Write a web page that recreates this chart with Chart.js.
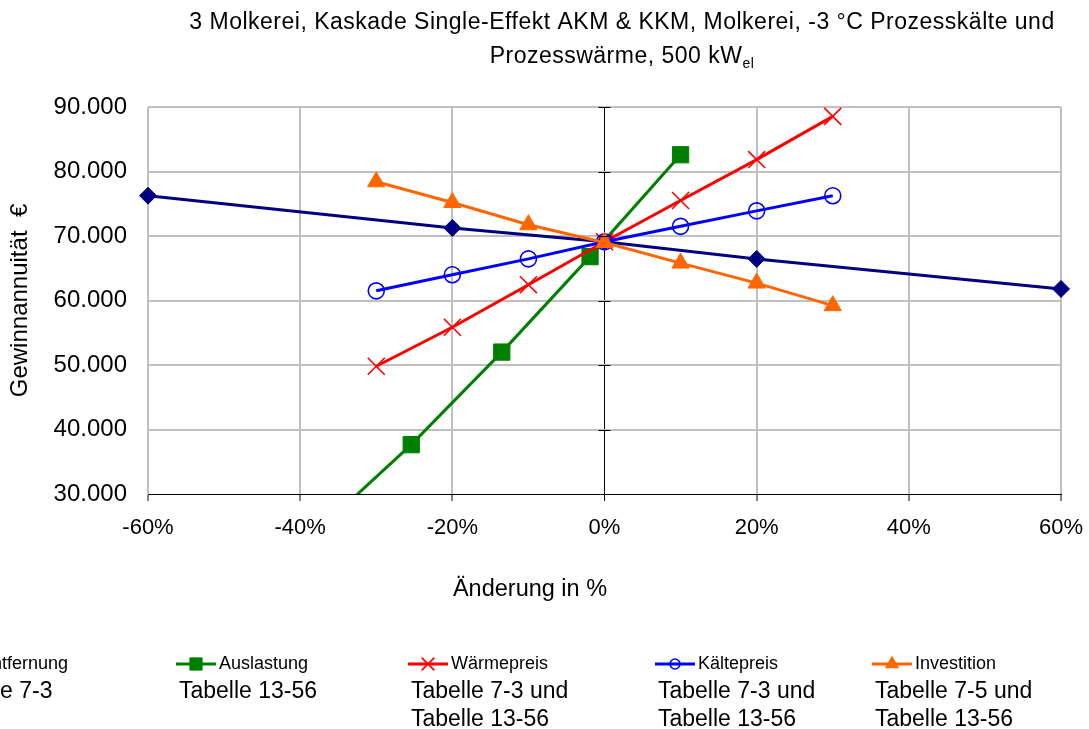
<!DOCTYPE html>
<html>
<head>
<meta charset="utf-8">
<script src="https://cdn.jsdelivr.net/npm/chart.js@4"></script>
<style>
    html, body { margin: 0; padding: 0; background: #fff; overflow: hidden; }
    #chart { display: block; }
</style>
</head>
<body>
<canvas id="chart" width="1089" height="729"></canvas>
<script>
// Data
const seriesNames = ['Entfernung', 'Auslastung', 'Wärmepreis', 'Kältepreis', 'Investition'];
const sourceNotes = [
    ['Tabelle 7-3'],
    ['Tabelle 13-56'],
    ['Tabelle 7-3 und', 'Tabelle 13-56'],
    ['Tabelle 7-3 und', 'Tabelle 13-56'],
    ['Tabelle 7-5 und', 'Tabelle 13-56']
];

const entfernungX = [-60, -20, 0, 20, 60];
const entfernungY = [76250, 71250, 69100, 66450, 61800];

const auslastungX = [-37.5, -25.4, -13.5, -1.9, 10];
const auslastungY = [24500, 37650, 52000, 66800, 82600];

const waermeX = [-30, -20, -10, 0, 10, 20, 30];
const waermeY = [49800, 55850, 62450, 69100, 75500, 81850, 88550];

const kaelteX = [-30, -20, -10, 0, 10, 20, 30];
const kaelteY = [61500, 64000, 66450, 69100, 71500, 73900, 76250];

const investX = [-30, -20, -10, 0, 10, 20, 30];
const investY = [78400, 75200, 71750, 69000, 65800, 62700, 59200];

const xTicks = [-60, -40, -20, 0, 20, 40, 60];
const yTicks = [30000, 40000, 50000, 60000, 70000, 80000, 90000];

const titleLine1 = '3 Molkerei, Kaskade Single-Effekt AKM & KKM, Molkerei, -3 °C Prozesskälte und';
const titleLine2 = 'Prozesswärme, 500 kW';
const titleSub = 'el';
const xTitle = 'Änderung in %';
const yTitle = 'Gewinnannuität  €';

// Styles
const FONT = "'Liberation Sans', Arial, sans-serif";
const GRID = '#c0c0c0';
const colors = ['#000080', '#008000', '#ff0000', '#0000ff', '#ff6600'];
const pointStyles = ['rectRot', 'rect', 'crossRot', 'circle', 'triangle'];
const pointRadii = [8.5, 11.5, 12, 8, 10];
const legendX = [-63, 176, 408, 655, 872];

function toPoints(xs, ys) {
    return xs.map((x, i) => ({ x: x, y: ys[i] }));
}

const seriesData = [
    toPoints(entfernungX, entfernungY),
    toPoints(auslastungX, auslastungY),
    toPoints(waermeX, waermeY),
    toPoints(kaelteX, kaelteY),
    toPoints(investX, investY)
];

const datasets = seriesNames.map((name, i) => ({
    label: name,
    data: seriesData[i],
    borderColor: colors[i],
    borderWidth: 3,
    pointStyle: pointStyles[i],
    pointRadius: pointRadii[i],
    pointBorderColor: colors[i],
    pointBackgroundColor: pointStyles[i] === 'circle' ? 'rgba(0,0,0,0)' : colors[i],
    pointBorderWidth: pointStyles[i] === 'circle' || pointStyles[i] === 'crossRot' ? 1.6 : 1,
    tension: 0,
    fill: false,
    order: seriesNames.length - i,
    clip: { left: 12, top: 12, right: 12, bottom: 0 }
}));

function formatThousands(v) {
    return String(v).replace(/\B(?=(\d{3})+(?!\d))/g, '.');
}

// Title, axis extras and legend drawn on the canvas
const decorPlugin = {
    id: 'decor',
    afterDraw(chart) {
        const ctx = chart.ctx;
        const xs = chart.scales.x;
        const ys = chart.scales.y;
        ctx.save();

        // zero axis tick marks
        const x0 = xs.getPixelForValue(0);
        ctx.strokeStyle = '#000';
        ctx.lineWidth = 1;
        yTicks.forEach(v => {
            const y = Math.round(ys.getPixelForValue(v)) + 0.5;
            ctx.beginPath();
            ctx.moveTo(x0 - 6, y);
            ctx.lineTo(x0 + 6, y);
            ctx.stroke();
        });

        // title
        ctx.fillStyle = '#000';
        ctx.textBaseline = 'middle';
        ctx.textAlign = 'center';
        ctx.letterSpacing = '0.5px';
        ctx.font = '23px ' + FONT;
        ctx.fillText(titleLine1, 622, 23);
        const w2 = ctx.measureText(titleLine2).width;
        ctx.font = '14px ' + FONT;
        const ws = ctx.measureText(titleSub).width;
        const start = 622 - (w2 + ws) / 2;
        ctx.textAlign = 'left';
        ctx.font = '23px ' + FONT;
        ctx.fillText(titleLine2, start, 57);
        ctx.font = '14px ' + FONT;
        ctx.fillText(titleSub, start + w2, 64);
        ctx.letterSpacing = '0px';

        // x axis title
        ctx.font = '23.5px ' + FONT;
        ctx.textAlign = 'center';
        ctx.fillText(xTitle, 530, 590);

        // legend
        chart.data.datasets.forEach((ds, i) => {
            const lx = legendX[i];
            const ly = 664;
            ctx.strokeStyle = ds.borderColor;
            ctx.lineWidth = 3;
            ctx.beginPath();
            ctx.moveTo(lx, ly);
            ctx.lineTo(lx + 40, ly);
            ctx.stroke();
            ctx.fillStyle = ds.pointBackgroundColor;
            ctx.strokeStyle = ds.pointBorderColor;
            ctx.lineWidth = ds.pointBorderWidth;
            Chart.helpers.drawPoint(ctx, {
                pointStyle: ds.pointStyle,
                radius: ds.pointRadius * (ds.pointStyle === 'circle' ? 0.62 : 0.75),
                rotation: 0,
                borderWidth: ds.pointBorderWidth
            }, lx + 20, ly);
            ctx.fillStyle = '#000';
            ctx.textAlign = 'left';
            ctx.font = '18px ' + FONT;
            ctx.fillText(ds.label, lx + 43, ly);
            ctx.font = '23px ' + FONT;
            sourceNotes[i].forEach((line, j) => {
                ctx.fillText(line, lx + 3, 692 + j * 28);
            });
        });
        ctx.restore();
    }
};

const ctx = document.getElementById('chart').getContext('2d');
const chart = new Chart(ctx, {
    type: 'line',
    data: { datasets: datasets },
    options: {
        responsive: false,
        animation: false,
        devicePixelRatio: 1,
        layout: { padding: { top: 107, right: 28, left: 0, bottom: 0 } },
        plugins: {
            legend: { display: false },
            tooltip: { enabled: false }
        },
        scales: {
            x: {
                type: 'linear',
                min: -60,
                max: 60,
                afterBuildTicks: s => { s.ticks = xTicks.map(v => ({ value: v })); },
                afterFit: s => { s.height = 235; s.paddingLeft = 0; s.paddingRight = 0; },
                ticks: {
                    callback: v => v + '%',
                    color: '#000',
                    font: { family: FONT, size: 22 },
                    padding: 14,
                    maxRotation: 0
                },
                grid: {
                    color: c => (c.tick && c.tick.value === 0) ? '#000' : GRID,
                    lineWidth: c => (c.tick && c.tick.value === 0) ? 1 : 2,
                    tickColor: '#000',
                    tickWidth: 1,
                    tickLength: 7
                },
                border: { display: true, color: '#000', width: 1 }
            },
            y: {
                min: 30000,
                max: 90000,
                afterBuildTicks: s => { s.ticks = yTicks.map(v => ({ value: v })); },
                afterFit: s => { s.width = 148; s.paddingTop = 0; s.paddingBottom = 0; },
                ticks: {
                    callback: v => formatThousands(v),
                    color: '#000',
                    font: { family: FONT, size: 24 },
                    padding: 21
                },
                grid: {
                    color: c => (c.tick && c.tick.value === 30000) ? 'rgba(0,0,0,0)' : GRID,
                    lineWidth: 2,
                    drawTicks: false
                },
                border: { display: false },
                title: {
                    display: true,
                    text: yTitle,
                    color: '#000',
                    font: { family: FONT, size: 24 },
                    padding: { top: 6, bottom: 0 }
                }
            }
        }
    },
    plugins: [decorPlugin]
});
</script>
</body>
</html>
